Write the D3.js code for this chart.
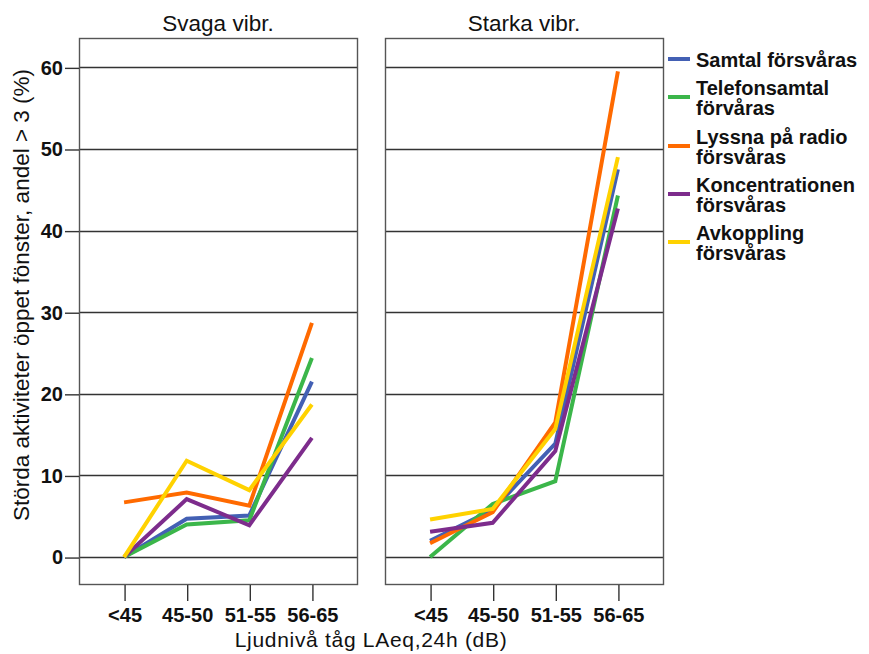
<!DOCTYPE html>
<html>
<head>
<meta charset="utf-8">
<script src="https://cdn.jsdelivr.net/npm/d3@7"></script>
<style>
  html, body { margin: 0; padding: 0; background: #fff; }
  svg { display: block; }
</style>
</head>
<body>
<svg id="chart" width="869" height="654"></svg>
<script>
// Categories and panels
const categories = ["<45", "45-50", "51-55", "56-65"];
const panels = ["Svaga vibr.", "Starka vibr."];
const yTicks = [0, 10, 20, 30, 40, 50, 60];

// Series names (legend) and colours
const seriesNames = [
  ["Samtal försvåras"],
  ["Telefonsamtal", "förvåras"],
  ["Lyssna på radio", "försvåras"],
  ["Koncentrationen", "försvåras"],
  ["Avkoppling", "försvåras"]
];
const seriesColors = ["#4360b4", "#3bb64a", "#ff6a00", "#7d2c8c", "#ffd200"];

// Values (%) per series, weak vibrations panel
const svagaSamtal        = [0.0, 4.7, 5.1, 21.5];
const svagaTelefon       = [0.0, 4.0, 4.5, 24.4];
const svagaRadio         = [6.7, 7.9, 6.3, 28.7];
const svagaKoncentration = [0.0, 7.1, 3.9, 14.6];
const svagaAvkoppling    = [0.0, 11.8, 8.2, 18.7];

// Values (%) per series, strong vibrations panel
const starkaSamtal        = [2.0, 5.8, 13.9, 47.5];
const starkaTelefon       = [0.0, 6.5, 9.3, 44.3];
const starkaRadio         = [1.7, 5.5, 16.5, 59.5];
const starkaKoncentration = [3.1, 4.2, 13.0, 42.7];
const starkaAvkoppling    = [4.6, 5.9, 15.7, 49.0];

const panelData = [
  [svagaSamtal, svagaTelefon, svagaRadio, svagaKoncentration, svagaAvkoppling],
  [starkaSamtal, starkaTelefon, starkaRadio, starkaKoncentration, starkaAvkoppling]
];

const svg = d3.select("#chart");
const FONT = "'Liberation Sans', Arial, sans-serif";

const plotTop = 38, plotBottom = 584;
const panelX = [[79, 357], [385, 663]];

// y: 0 -> 557, 60 -> 65
const y = d3.scaleLinear().domain([-3.3, 63.6]).range([plotBottom, plotTop]);

panelData.forEach((seriesList, pi) => {
  const [x0, x1] = panelX[pi];
  const x = d3.scalePoint().domain(categories).range([x0, x1]).padding(0.72);
  const g = svg.append("g");

  // gridlines
  g.selectAll("line.grid").data(yTicks).join("line")
    .attr("x1", x0).attr("x2", x1)
    .attr("y1", d => Math.round(y(d)) + 0.5).attr("y2", d => Math.round(y(d)) + 0.5)
    .attr("stroke", "#333").attr("stroke-width", 1.4);

  // panel frame
  g.append("rect")
    .attr("x", x0 + 0.5).attr("y", plotTop + 0.5)
    .attr("width", x1 - x0).attr("height", plotBottom - plotTop)
    .attr("fill", "none").attr("stroke", "#555").attr("stroke-width", 1.4);

  // panel title
  svg.append("text")
    .attr("x", (x0 + x1) / 2).attr("y", 31)
    .attr("text-anchor", "middle")
    .attr("font-family", FONT).attr("font-size", 22.5)
    .attr("fill", "#111")
    .text(panels[pi]);

  // x axis
  const xAxis = d3.axisBottom(x).tickSize(16).tickPadding(5);
  const xa = svg.append("g").attr("transform", `translate(0.5,${plotBottom + 1})`).call(xAxis);
  xa.select(".domain").remove();
  xa.selectAll(".tick line").attr("stroke", "#333").attr("stroke-width", 1.4);
  xa.selectAll(".tick text")
    .attr("font-family", FONT).attr("font-size", 20).attr("font-weight", "bold")
    .attr("fill", "#111").attr("dy", "0.82em");

  // series lines
  const line = d3.line().x((d, i) => x(categories[i])).y(d => y(d));
  seriesList.forEach((vals, si) => {
    g.append("path")
      .datum(vals)
      .attr("d", line)
      .attr("fill", "none")
      .attr("stroke", seriesColors[si])
      .attr("stroke-width", 4)
      .attr("stroke-linejoin", "miter");
  });
});

// y axis (left panel only)
const yAxis = d3.axisLeft(y).tickValues(yTicks).tickSize(14).tickPadding(2);
const ya = svg.append("g").attr("transform", `translate(${panelX[0][0]},0.5)`).call(yAxis);
ya.select(".domain").remove();
ya.selectAll(".tick line").attr("stroke", "#333").attr("stroke-width", 1.4);
ya.selectAll(".tick text")
  .attr("font-family", FONT).attr("font-size", 20).attr("font-weight", "bold")
  .attr("fill", "#111");

// y axis title
svg.append("text")
  .attr("transform", "translate(29,295) rotate(-90)")
  .attr("text-anchor", "middle")
  .attr("font-family", FONT).attr("font-size", 22.5)
  .attr("fill", "#111")
  .text("Störda aktiviteter öppet fönster, andel > 3 (%)");

// x axis title
svg.append("text")
  .attr("x", 371).attr("y", 647)
  .attr("text-anchor", "middle")
  .attr("font-family", FONT).attr("font-size", 21)
  .attr("letter-spacing", 0.7)
  .attr("fill", "#111")
  .text("Ljudnivå tåg LAeq,24h (dB)");

// legend
const legendY = [59, 97, 146, 194, 242];
const lg = svg.append("g");
seriesNames.forEach((lines, i) => {
  lg.append("line")
    .attr("x1", 668).attr("x2", 690)
    .attr("y1", legendY[i]).attr("y2", legendY[i])
    .attr("stroke", seriesColors[i]).attr("stroke-width", 4);
  const startY = lines.length === 1 ? legendY[i] + 7.5 : legendY[i] - 2.5;
  const t = lg.append("text")
    .attr("font-family", FONT).attr("font-size", 20).attr("font-weight", "bold")
    .attr("fill", "#111");
  lines.forEach((s, k) => {
    t.append("tspan").attr("x", 696).attr("y", startY + k * 20).text(s);
  });
});
</script>
</body>
</html>
